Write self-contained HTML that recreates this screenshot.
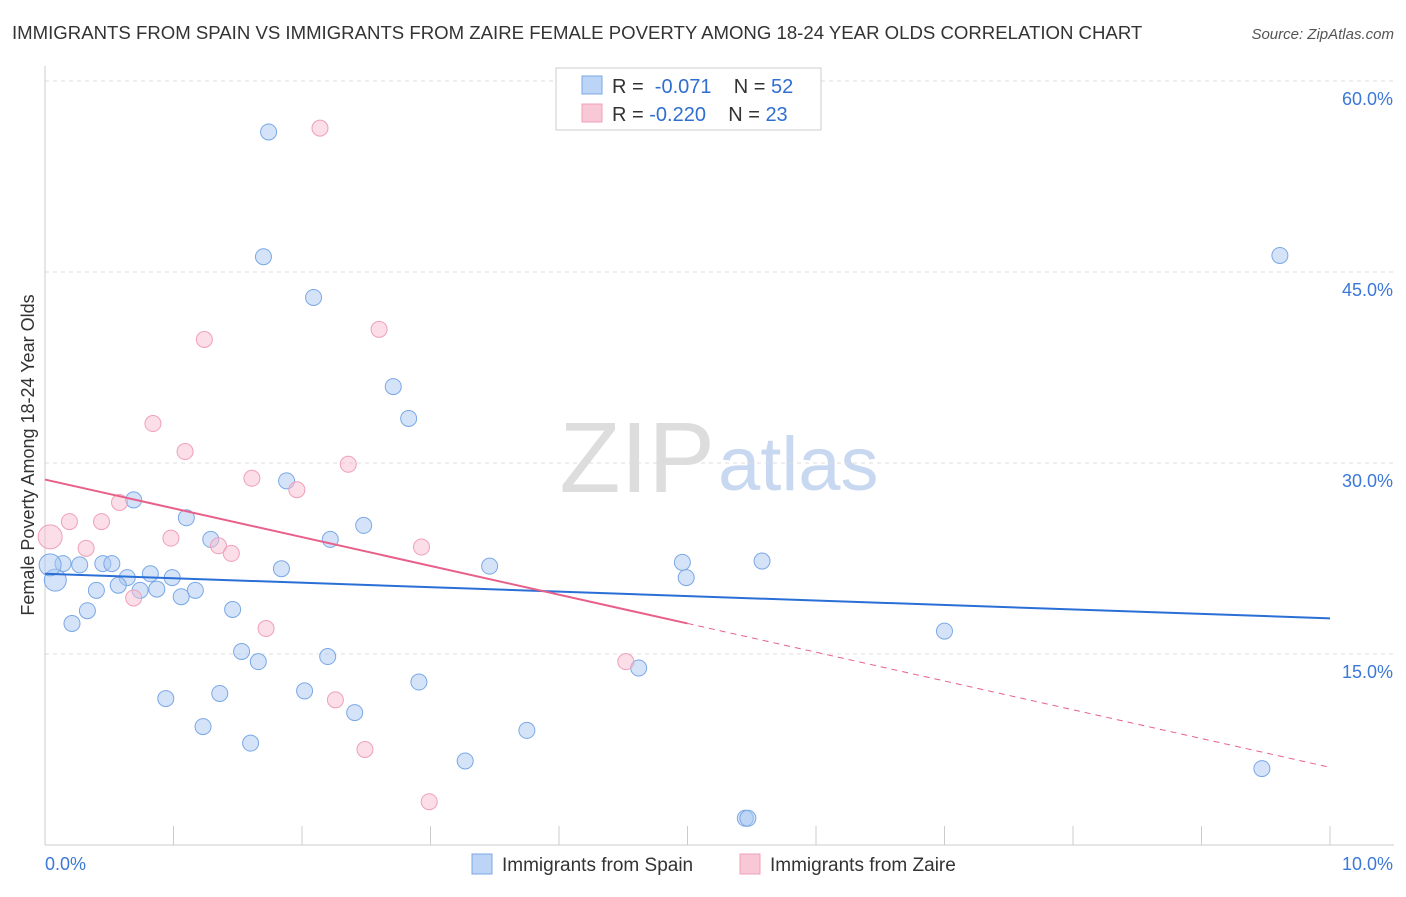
<!DOCTYPE html>
<html><head><meta charset="utf-8"><style>
body{margin:0;background:#fff;font-family:"Liberation Sans",sans-serif}
svg text{font-family:"Liberation Sans",sans-serif}
</style></head><body>
<svg id="c" width="1406" height="892">
<text x="12" y="39" font-size="18.6" fill="#333">IMMIGRANTS FROM SPAIN VS IMMIGRANTS FROM ZAIRE FEMALE POVERTY AMONG 18-24 YEAR OLDS CORRELATION CHART</text>
<text x="1394" y="39" font-size="15" fill="#555" font-style="italic" text-anchor="end">Source: ZipAtlas.com</text>
<text x="715" y="492" font-size="100" fill="#ddd" text-anchor="end" font-family="Liberation Serif">ZIP</text>
<text x="718" y="490" font-size="76" fill="#c8d8f0">atlas</text>
<text transform="translate(34,455) rotate(-90)" font-size="18" fill="#333" text-anchor="middle">Female Poverty Among 18-24 Year Olds</text>
<g id="grid"></g><g id="pts"></g><g id="lines"></g>
<g>
<rect x="556" y="68" width="265" height="62" fill="#fff" stroke="#ccc"/>
<rect x="582" y="76" width="20" height="18" fill="#bcd4f6" stroke="#7aa8e6"/>
<rect x="582" y="104" width="20" height="18" fill="#f9c8d6" stroke="#f0a0b8"/>
<text x="612" y="93" font-size="20" fill="#333" xml:space="preserve">R =  <tspan fill="#2f6fd0">-0.071</tspan>    N = <tspan fill="#2f6fd0">52</tspan></text>
<text x="612" y="121" font-size="20" fill="#333" xml:space="preserve">R = <tspan fill="#2f6fd0">-0.220</tspan>    N = <tspan fill="#2f6fd0">23</tspan></text>
</g>
<g>
<rect x="472" y="854" width="20" height="20" fill="#bcd4f6" stroke="#7aa8e6"/>
<text x="502" y="871" font-size="19" fill="#333">Immigrants from Spain</text>
<rect x="740" y="854" width="20" height="20" fill="#f9c8d6" stroke="#f0a0b8"/>
<text x="770" y="871" font-size="19" fill="#333">Immigrants from Zaire</text>
</g>
</svg>
<script>
const yTicks=[15,30,45,60];
const xTickLabels=["0.0%","10.0%"];
const spainX=[1.74,1.70,2.09,9.61,2.71,2.83,1.88,0.69,1.10,2.48,1.29,2.22,0.14,0.27,0.45,0.52,0.82,0.99,0.64,0.57,0.74,0.87,1.17,1.06,0.40,0.33,0.21,1.46,1.84,3.46,4.96,4.99,5.58,7.00,1.53,1.66,2.20,4.62,2.91,2.02,1.36,0.94,2.41,1.23,3.75,1.60,3.27,9.47,5.45,5.47,0.08,0.04];
const spainY=[56.0,46.2,43.0,46.3,36.0,33.5,28.6,27.1,25.7,25.1,24.0,24.0,22.1,22.0,22.1,22.1,21.3,21.0,21.0,20.4,20.0,20.1,20.0,19.5,20.0,18.4,17.4,18.5,21.7,21.9,22.2,21.0,22.3,16.8,15.2,14.4,14.8,13.9,12.8,12.1,11.9,11.5,10.4,9.3,9.0,8.0,6.6,6.0,2.1,2.1,20.8,22.0];
const zaireX=[2.14,1.24,2.60,0.84,1.09,2.36,1.61,1.96,0.58,0.19,0.44,0.98,1.35,1.45,2.93,0.32,0.69,1.72,4.52,2.26,2.49,2.99,0.04];
const zaireY=[56.3,39.7,40.5,33.1,30.9,29.9,28.8,27.9,26.9,25.4,25.4,24.1,23.5,22.9,23.4,23.3,19.4,17.0,14.4,11.4,7.5,3.4,24.2];
const spainTrend=[21.3,17.8];
const zaireTrend=[28.7,6.1];
const zaireSolidEnd=5;
const NS="http://www.w3.org/2000/svg";
const xs=v=>45+v*128.5, ys=v=>845-v*12.733;
function mk(t,a,p){const e=document.createElementNS(NS,t);for(const k in a)e.setAttribute(k,a[k]);p.appendChild(e);return e;}
const g=document.getElementById('grid');
yTicks.forEach(t=>{
 const l=mk('line',{x1:45,x2:1394,y1:ys(t),y2:ys(t),stroke:'#ddd','stroke-dasharray':'4,4'},g);
 
 
 const tx=mk('text',{x:1393,y:ys(t)+24,'font-size':18,fill:'#3b78d8','text-anchor':'end'},g);tx.textContent=t.toFixed(1)+'%';
 
 
});
mk('line',{x1:45,x2:45,y1:66,y2:845,stroke:'#ccc'},g);
mk('line',{x1:45,x2:1394,y1:845,y2:845,stroke:'#ccc'},g);
for(let i=0;i<=10;i++){mk('line',{x1:xs(i*1),x2:xs(i*1),y1:826,y2:845,stroke:'#ccc'},g);}
[[0,'start',45],[1,'end',1393]].forEach(([i,a,x])=>{const t=mk('text',{x:x,y:870,'font-size':18,fill:'#3b78d8','text-anchor':a},g);t.textContent=xTickLabels[i];
 
 });
const p=document.getElementById('pts');
spainX.forEach((x,i)=>{const c=mk('circle',{cx:xs(x),cy:ys(spainY[i]),r:i>=50?11:8,fill:'rgba(170,200,242,0.5)',stroke:'#7aa8e6','stroke-width':1},p);
 
 });
zaireX.forEach((x,i)=>{const c=mk('circle',{cx:xs(x),cy:ys(zaireY[i]),r:i==22?12:8,fill:'rgba(248,190,208,0.5)',stroke:'#f0a0b8','stroke-width':1},p);
 
 });
const L=document.getElementById('lines');
const b=mk('line',{x1:xs(0),y1:ys(spainTrend[0]),x2:xs(10),y2:ys(spainTrend[1]),stroke:'#2a6fd6','stroke-width':2},L);


const zm=zaireTrend[0]+(zaireTrend[1]-zaireTrend[0])*zaireSolidEnd/10;
const z1=mk('line',{x1:xs(0),y1:ys(zaireTrend[0]),x2:xs(zaireSolidEnd),y2:ys(zm),stroke:'#e8608a','stroke-width':2},L);


const z2=mk('line',{x1:xs(zaireSolidEnd),y1:ys(zm),x2:xs(10),y2:ys(zaireTrend[1]),stroke:'#e8608a','stroke-width':1,'stroke-dasharray':'6,5'},L);


</script>
</body></html>
